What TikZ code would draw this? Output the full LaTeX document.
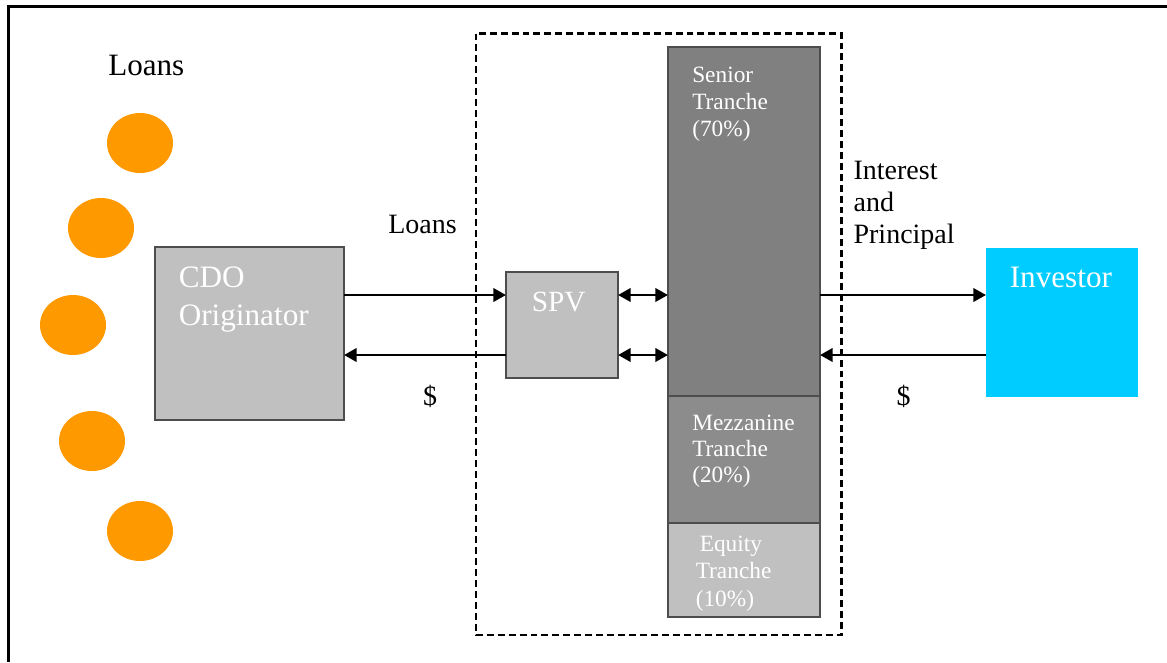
\documentclass[tikz,border=0pt]{standalone}
\usepackage{fontspec}
\setmainfont{Liberation Serif}
\usetikzlibrary{arrows.meta,shapes.geometric}
\definecolor{loanorange}{HTML}{FF9900}
\definecolor{boxgray}{HTML}{C0C0C0}
\definecolor{seniorgray}{HTML}{808080}
\definecolor{mezzgray}{HTML}{8C8C8C}
\definecolor{edgegray}{HTML}{4D4D4D}
\definecolor{investorblue}{HTML}{00CCFF}
\tikzset{
  loan/.style={ellipse, fill=loanorange, minimum width=49.5pt, minimum height=45pt, inner sep=0},
  block/.style={draw=edgegray, line width=1pt, inner sep=0},
  % multi-line text nodes are placed at the baseline of their last line
  flowtext/.style={inner sep=0, anchor=base west, font=\fontsize{21}{24}\selectfont, align=left},
  boxtext/.style={inner sep=0, anchor=base west, text=white, font=\fontsize{23.4}{28.3}\selectfont, align=left},
  tranchetext/.style={inner sep=0, anchor=base west, text=white, font=\fontsize{17.5}{20.2}\selectfont, align=left},
  flow/.style={line width=2.1pt, -{Triangle[length=9.5pt,width=10pt]}},
  twoway/.style={line width=2.1pt, {Triangle[length=9.5pt,width=10pt]}-{Triangle[length=9.5pt,width=10pt]}},
}
\begin{document}
\begin{tikzpicture}[x=0.75pt, y=-0.75pt]
\useasboundingbox (0,0) rectangle (1167,662);
% frame
\draw[line width=1.7pt] (8.5,662) -- (8.5,6.5) -- (1167,6.5);

% pool of loans
\node[flowtext, font=\fontsize{23.3}{28}\selectfont] (loanslbl) at (108,75) {Loans};
\node[loan] (l1) at (140,143) {};
\node[loan] (l2) at (101,228) {};
\node[loan] (l3) at (73,325) {};
\node[loan] (l4) at (92,441) {};
\node[loan] (l5) at (140,531) {};

% originator
\path[block, fill=boxgray] (155,247) rectangle (344,420);
\coordinate (orgTop) at (344,295);
\coordinate (orgBot) at (344,355);
\node[boxtext] (cdo) at (178.5,325) {CDO\\Originator};

% special purpose vehicle
\draw[line width=2.1pt, dash pattern=on 5.2pt off 3pt] (476,33.5) rectangle (841.5,635);
\path[block, fill=boxgray] (506,272) rectangle (618,378);
\node[boxtext, font=\fontsize{22}{26}\selectfont] (spv) at (531.5,311.5) {SPV};
\coordinate (spvInTop) at (506,295);
\coordinate (spvInBot) at (506,355);
\coordinate (spvOutTop) at (618,295);
\coordinate (spvOutBot) at (618,355);

% tranches
\path[block, fill=seniorgray] (668,47) rectangle (820,396);
\path[block, fill=mezzgray] (668,396) rectangle (820,523);
\path[block, fill=boxgray] (668,523) rectangle (820,617);
\node[tranchetext] (senior) at (692,136.5) {Senior\\Tranche\\(70\%)};
\node[tranchetext, font=\fontsize{17.5}{19.4}\selectfont] (mezz) at (692,482.5) {Mezzanine\\Tranche\\(20\%)};
\node[tranchetext, font=\fontsize{17.5}{20.4}\selectfont] (equity) at (695.5,606) {\hspace{3pt}Equity\\Tranche\\(10\%)};
\coordinate (trInTop) at (668,295);
\coordinate (trInBot) at (668,355);
\coordinate (trOutTop) at (820,295);
\coordinate (trOutBot) at (820,355);

% investor
\path[fill=investorblue] (986,247.5) rectangle (1138,396.5);
\node[boxtext] (inv) at (1009.5,287.3) {Investor};
\coordinate (invTop) at (986,295);
\coordinate (invBot) at (986,355);

% flows
\draw[flow] (orgTop) -- (spvInTop);
\draw[flow] (spvInBot) -- (orgBot);
\draw[twoway] (spvOutTop) -- (trInTop);
\draw[twoway] (spvOutBot) -- (trInBot);
\draw[flow] (trOutTop) -- (invTop);
\draw[flow] (invBot) -- (trOutBot);

% flow labels
\node[flowtext] (loansflow) at (388,233) {Loans};
\node[flowtext, anchor=center] (cash1) at (430,396) {\$};
\node[flowtext] (ip) at (853.3,243.3) {Interest\\and\\Principal};
\node[flowtext, anchor=center] (cash2) at (903.5,396.5) {\$};
\end{tikzpicture}
\end{document}
